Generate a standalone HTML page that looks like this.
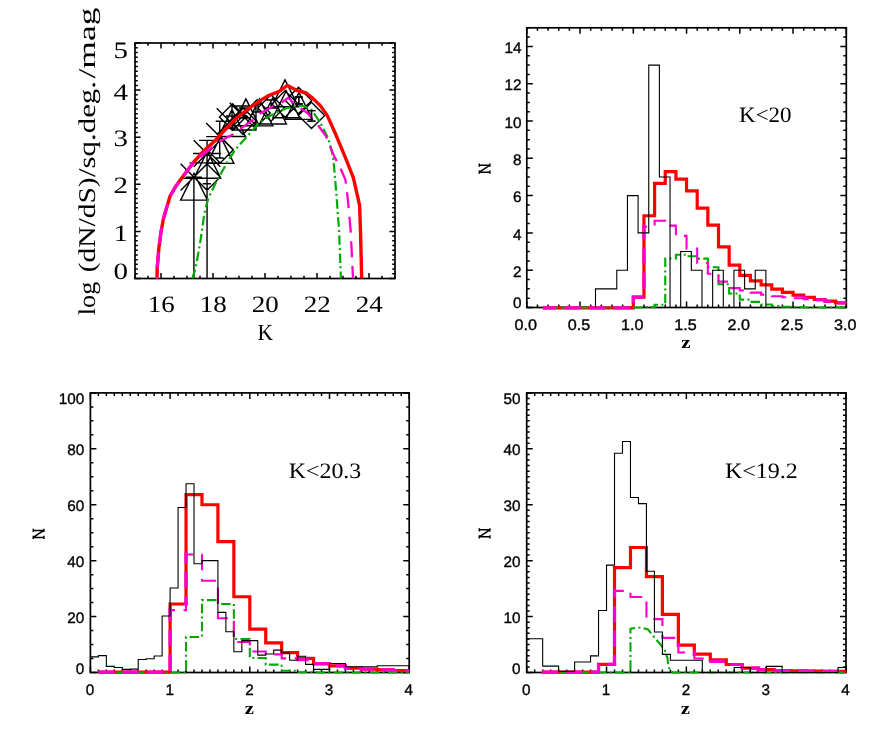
<!DOCTYPE html>
<html><head><meta charset="utf-8"><title>K-band counts and redshift distributions</title>
<style>html,body{margin:0;padding:0;background:#fff}svg{display:block}text{fill:#000;text-rendering:geometricPrecision}svg{will-change:transform;transform:translateZ(0)}</style></head><body>
<svg width="872" height="730" viewBox="0 0 872 730">
<rect width="872" height="730" fill="#fff"/>
<g id="p1">
<path d="M135 278.5v-2.8M135 43v2.8M148 278.5v-2.8M148 43v2.8M161 278.5v-5.5M161 43v5.5M174 278.5v-2.8M174 43v2.8M187 278.5v-2.8M187 43v2.8M200 278.5v-2.8M200 43v2.8M213 278.5v-5.5M213 43v5.5M226 278.5v-2.8M226 43v2.8M239 278.5v-2.8M239 43v2.8M252 278.5v-2.8M252 43v2.8M265 278.5v-5.5M265 43v5.5M278 278.5v-2.8M278 43v2.8M291 278.5v-2.8M291 43v2.8M304 278.5v-2.8M304 43v2.8M317 278.5v-5.5M317 43v5.5M330 278.5v-2.8M330 43v2.8M343 278.5v-2.8M343 43v2.8M356 278.5v-2.8M356 43v2.8M369 278.5v-5.5M369 43v5.5M382 278.5v-2.8M382 43v2.8M395 278.5v-2.8M395 43v2.8M135 278.5h5.5M395 278.5h-5.5M135 273.79h2.8M395 273.79h-2.8M135 269.08h2.8M395 269.08h-2.8M135 264.37h2.8M395 264.37h-2.8M135 259.66h2.8M395 259.66h-2.8M135 254.95h2.8M395 254.95h-2.8M135 250.24h2.8M395 250.24h-2.8M135 245.53h2.8M395 245.53h-2.8M135 240.82h2.8M395 240.82h-2.8M135 236.11h2.8M395 236.11h-2.8M135 231.4h5.5M395 231.4h-5.5M135 226.69h2.8M395 226.69h-2.8M135 221.98h2.8M395 221.98h-2.8M135 217.27h2.8M395 217.27h-2.8M135 212.56h2.8M395 212.56h-2.8M135 207.85h2.8M395 207.85h-2.8M135 203.14h2.8M395 203.14h-2.8M135 198.43h2.8M395 198.43h-2.8M135 193.72h2.8M395 193.72h-2.8M135 189.01h2.8M395 189.01h-2.8M135 184.3h5.5M395 184.3h-5.5M135 179.59h2.8M395 179.59h-2.8M135 174.88h2.8M395 174.88h-2.8M135 170.17h2.8M395 170.17h-2.8M135 165.46h2.8M395 165.46h-2.8M135 160.75h2.8M395 160.75h-2.8M135 156.04h2.8M395 156.04h-2.8M135 151.33h2.8M395 151.33h-2.8M135 146.62h2.8M395 146.62h-2.8M135 141.91h2.8M395 141.91h-2.8M135 137.2h5.5M395 137.2h-5.5M135 132.49h2.8M395 132.49h-2.8M135 127.78h2.8M395 127.78h-2.8M135 123.07h2.8M395 123.07h-2.8M135 118.36h2.8M395 118.36h-2.8M135 113.65h2.8M395 113.65h-2.8M135 108.94h2.8M395 108.94h-2.8M135 104.23h2.8M395 104.23h-2.8M135 99.52h2.8M395 99.52h-2.8M135 94.81h2.8M395 94.81h-2.8M135 90.1h5.5M395 90.1h-5.5M135 85.39h2.8M395 85.39h-2.8M135 80.68h2.8M395 80.68h-2.8M135 75.97h2.8M395 75.97h-2.8M135 71.26h2.8M395 71.26h-2.8M135 66.55h2.8M395 66.55h-2.8M135 61.84h2.8M395 61.84h-2.8M135 57.13h2.8M395 57.13h-2.8M135 52.42h2.8M395 52.42h-2.8M135 47.71h2.8M395 47.71h-2.8M135 43h5.5M395 43h-5.5" stroke="#000" stroke-width="1.5" fill="none"/>
<rect x="135" y="43" width="260" height="235.5" fill="none" stroke="#000" stroke-width="1.7"/>
<path d="M180.6 163.8L207.2 190.4M180.6 190.4L207.2 163.8M193.75 140.2L220.35 166.8M193.75 166.8L220.35 140.2M206.2 123L232.8 149.6M206.2 149.6L232.8 123M216.7 108.2L243.3 134.8M216.7 134.8L243.3 108.2M229.7 102.7L256.3 129.3M229.7 129.3L256.3 102.7M180.6 200.1L194 173.3L207.4 200.1ZM193.9 178.2L207.3 151.4L220.7 178.2ZM207.1 163.4L220.5 136.6L233.9 163.4ZM218.6 136.4L232 109.6L245.4 136.4ZM232.5 125.7L245.9 98.9L259.3 125.7ZM246 125.9L259.4 99.1L272.8 125.9ZM259.6 124L273 97.2L286.4 124ZM272.8 117.7L286.2 90.9L299.6 117.7ZM271.6 106.7L285 79.9L298.4 106.7ZM285.6 119.4L299 92.6L312.4 119.4ZM298.3 115.4L311.5 102.2L324.7 115.4L311.5 128.6ZM285.3 100.5L298.5 87.3L311.7 100.5L298.5 113.7ZM271.8 104L285 90.8L298.2 104L285 117.2ZM257.8 108L271 94.8L284.2 108L271 121.2ZM243.8 113L257 99.8L270.2 113L257 126.2ZM229.8 121L243 107.8L256.2 121L243 134.2ZM219.4 117L232.6 103.8L245.8 117L232.6 130.2ZM207 149.7L220.2 136.5L233.4 149.7L220.2 162.9ZM193.85 177.1L207.05 163.9L220.25 177.1L207.05 190.3ZM232 106h24v24h-24ZM193.9 177.1V278.5M185.9 177.1h16M207.05 140.4V278.5M199.05 140.4h16M189.5 162.9H210.3M180.2 178.2H207M207.05 153.5V162.9M193.05 153.5h28M193.05 162.9h28M219.7 121.2V158M215.7 121.2h8M215.7 158h8M206.2 136.6H244.4M202.7 183.7h8.2M217.7 121.4h12.3M311.5 110.6V121.1M307.5 110.6h8M307.5 121.1h8M298.8 97V104M294.8 97h8M294.8 104h8M232 116V128M226 116h12M226 128h12M245 108V118M239 108h12M239 118h12M258 104V112M253 104h10M253 112h10M271 100V108M266 100h10M266 108h10" stroke="#000" stroke-width="1.4" fill="none"/>
<path d="M157 278.5 L157.2 268 L158.9 248 L161 232 L163.5 218.4 L170 196.2 L176 186 L182 177.7 L193 163 L204.9 149.7 L215.8 139.9 L224.6 130.2 L237 117.5 L249.3 108.2 L261.7 99.6 L267.8 95.9 L278.9 91.6 L287.5 85.4 L297.5 90.7 L306.2 93 L312.9 98.4 L320.6 106 L327.3 115.6 L335.9 134.8 L345.5 157.8 L353.4 177.8 L359.6 205.4 L360.5 231.2 L361.7 278.5" stroke="#ff0000" stroke-width="3.4" fill="none" stroke-linejoin="round"/>
<path d="M192.3 278.5 L195.6 267.9 L200 243.8 L204.4 213.2 L208.1 199 L216.7 180.8 L229 159.4 L235.8 148.9 L246.9 136.6 L259.2 123 L269.1 116.2 L275.2 113.2 L286.3 108.2 L293.7 106.4 L301.4 105.5 L311 108.9 L320.6 123.3 L328.2 138.6 L333 155.9 L334.7 174.2 L336.5 195.6 L339.1 231.2 L340.9 278.5" stroke="#00aa00" stroke-width="2.2" fill="none" stroke-linejoin="round" stroke-dasharray="9.5 3.3 2 3.3"/>
<path d="M157 278.5 L157.2 268 L158.9 248 L161 232 L163.5 218.4 L170 196.2 L176 186 L182 177.7 L193 163.5 L200.5 156.8 L213.1 147 L219.5 141.5 L233.3 134.2 L240.7 128.6 L253 119.9 L260.4 113.2 L272.7 106.4 L281.4 102.7 L288.2 97.7 L292.5 102.1 L297.5 106 L307.1 112.7 L316.7 123.3 L326.3 136.7 L334 155.9 L340 167.1 L345.4 179.6 L348 200.9 L350.7 231.2 L353 278.5" stroke="#ff00cc" stroke-width="2.3" fill="none" stroke-linejoin="round" stroke-dasharray="16 8.6" stroke-dashoffset="14.2"/>
<mask id="m1" maskUnits="userSpaceOnUse" x="0" y="0" width="872" height="730"><path d="M157 278.5 L157.2 268 L158.9 248 L161 232 L163.5 218.4 L170 196.2 L176 186 L182 177.7 L193 163 L204.9 149.7 L215.8 139.9 L224.6 130.2 L237 117.5 L249.3 108.2 L261.7 99.6 L267.8 95.9 L278.9 91.6 L287.5 85.4 L297.5 90.7 L306.2 93 L312.9 98.4 L320.6 106 L327.3 115.6 L335.9 134.8 L345.5 157.8 L353.4 177.8 L359.6 205.4 L360.5 231.2 L361.7 278.5" stroke="#fff" stroke-width="3.2" fill="none" stroke-linejoin="round"/></mask>
<path d="M157 278.5 L157.2 268 L158.9 248 L161 232 L163.5 218.4 L170 196.2 L176 186 L182 177.7 L193 163.5 L200.5 156.8 L213.1 147 L219.5 141.5 L233.3 134.2 L240.7 128.6 L253 119.9 L260.4 113.2 L272.7 106.4 L281.4 102.7 L288.2 97.7 L292.5 102.1 L297.5 106 L307.1 112.7 L316.7 123.3 L326.3 136.7 L334 155.9 L340 167.1 L345.4 179.6 L348 200.9 L350.7 231.2 L353 278.5" stroke="#ff00cc" stroke-width="4.4" fill="none" stroke-linejoin="round" stroke-dasharray="16 8.6" stroke-dashoffset="14.2" mask="url(#m1)"/>
<path d="M311.5 110.6V121.1M307.5 110.6h8M307.5 121.1h8M298.8 97V104M294.8 97h8M294.8 104h8" stroke="#000" stroke-width="1.3" fill="none"/>
<text x="161.2" y="312" font-family="'Liberation Serif', serif" font-size="23.5" text-anchor="middle" textLength="27" lengthAdjust="spacingAndGlyphs">16</text>
<text x="213.2" y="312" font-family="'Liberation Serif', serif" font-size="23.5" text-anchor="middle" textLength="27" lengthAdjust="spacingAndGlyphs">18</text>
<text x="265.2" y="312" font-family="'Liberation Serif', serif" font-size="23.5" text-anchor="middle" textLength="27" lengthAdjust="spacingAndGlyphs">20</text>
<text x="317.2" y="312" font-family="'Liberation Serif', serif" font-size="23.5" text-anchor="middle" textLength="27" lengthAdjust="spacingAndGlyphs">22</text>
<text x="369.2" y="312" font-family="'Liberation Serif', serif" font-size="23.5" text-anchor="middle" textLength="27" lengthAdjust="spacingAndGlyphs">24</text>
<text x="128" y="58" font-family="'Liberation Serif', serif" font-size="23.5" text-anchor="end" textLength="14.5" lengthAdjust="spacingAndGlyphs">5</text>
<text x="128" y="99.9" font-family="'Liberation Serif', serif" font-size="23.5" text-anchor="end" textLength="14.5" lengthAdjust="spacingAndGlyphs">4</text>
<text x="128" y="146.4" font-family="'Liberation Serif', serif" font-size="23.5" text-anchor="end" textLength="14.5" lengthAdjust="spacingAndGlyphs">3</text>
<text x="128" y="192.8" font-family="'Liberation Serif', serif" font-size="23.5" text-anchor="end" textLength="14.5" lengthAdjust="spacingAndGlyphs">2</text>
<text x="128" y="240.9" font-family="'Liberation Serif', serif" font-size="23.5" text-anchor="end" textLength="14.5" lengthAdjust="spacingAndGlyphs">1</text>
<text x="128" y="279.3" font-family="'Liberation Serif', serif" font-size="23.5" text-anchor="end" textLength="14.5" lengthAdjust="spacingAndGlyphs">0</text>
<text x="265.2" y="339.5" font-family="'Liberation Serif', serif" font-size="23" text-anchor="middle" textLength="15.5" lengthAdjust="spacingAndGlyphs">K</text>
<g transform="translate(95 0) rotate(-90)">
<text x="-315.2" y="0" font-family="'Liberation Serif', serif" font-size="24" text-anchor="start" textLength="33.5" lengthAdjust="spacingAndGlyphs">log</text>
<text x="-272.3" y="0" font-family="'Liberation Serif', serif" font-size="24" text-anchor="start" textLength="95" lengthAdjust="spacingAndGlyphs">(dN/dS)</text>
<text x="-177" y="0" font-family="'Liberation Serif', serif" font-size="24" text-anchor="start" textLength="96" lengthAdjust="spacingAndGlyphs">/sq.deg.</text>
<text x="-78.5" y="0" font-family="'Liberation Serif', serif" font-size="24" text-anchor="start" textLength="71" lengthAdjust="spacingAndGlyphs">/mag</text>
</g>
</g>
<g id="p2">
<path d="M526.8 307.5v-6M526.8 27.8v6M537.45 307.5v-3M537.45 27.8v3M548.1 307.5v-3M548.1 27.8v3M558.75 307.5v-3M558.75 27.8v3M569.4 307.5v-3M569.4 27.8v3M580.05 307.5v-6M580.05 27.8v6M590.7 307.5v-3M590.7 27.8v3M601.35 307.5v-3M601.35 27.8v3M612 307.5v-3M612 27.8v3M622.65 307.5v-3M622.65 27.8v3M633.3 307.5v-6M633.3 27.8v6M643.95 307.5v-3M643.95 27.8v3M654.6 307.5v-3M654.6 27.8v3M665.25 307.5v-3M665.25 27.8v3M675.9 307.5v-3M675.9 27.8v3M686.55 307.5v-6M686.55 27.8v6M697.2 307.5v-3M697.2 27.8v3M707.85 307.5v-3M707.85 27.8v3M718.5 307.5v-3M718.5 27.8v3M729.15 307.5v-3M729.15 27.8v3M739.8 307.5v-6M739.8 27.8v6M750.45 307.5v-3M750.45 27.8v3M761.1 307.5v-3M761.1 27.8v3M771.75 307.5v-3M771.75 27.8v3M782.4 307.5v-3M782.4 27.8v3M793.05 307.5v-6M793.05 27.8v6M803.7 307.5v-3M803.7 27.8v3M814.35 307.5v-3M814.35 27.8v3M825 307.5v-3M825 27.8v3M835.65 307.5v-3M835.65 27.8v3M846.3 307.5v-6M846.3 27.8v6M526.8 307.5h6M846.3 307.5h-6M526.8 298.18h3M846.3 298.18h-3M526.8 288.85h3M846.3 288.85h-3M526.8 279.53h3M846.3 279.53h-3M526.8 270.21h6M846.3 270.21h-6M526.8 260.88h3M846.3 260.88h-3M526.8 251.56h3M846.3 251.56h-3M526.8 242.24h3M846.3 242.24h-3M526.8 232.91h6M846.3 232.91h-6M526.8 223.59h3M846.3 223.59h-3M526.8 214.27h3M846.3 214.27h-3M526.8 204.94h3M846.3 204.94h-3M526.8 195.62h6M846.3 195.62h-6M526.8 186.3h3M846.3 186.3h-3M526.8 176.97h3M846.3 176.97h-3M526.8 167.65h3M846.3 167.65h-3M526.8 158.33h6M846.3 158.33h-6M526.8 149h3M846.3 149h-3M526.8 139.68h3M846.3 139.68h-3M526.8 130.36h3M846.3 130.36h-3M526.8 121.03h6M846.3 121.03h-6M526.8 111.71h3M846.3 111.71h-3M526.8 102.39h3M846.3 102.39h-3M526.8 93.06h3M846.3 93.06h-3M526.8 83.74h6M846.3 83.74h-6M526.8 74.42h3M846.3 74.42h-3M526.8 65.09h3M846.3 65.09h-3M526.8 55.77h3M846.3 55.77h-3M526.8 46.45h6M846.3 46.45h-6M526.8 37.12h3M846.3 37.12h-3M526.8 27.8h3M846.3 27.8h-3" stroke="#000" stroke-width="1.5" fill="none"/>
<rect x="526.8" y="27.8" width="319.5" height="279.7" fill="none" stroke="#000" stroke-width="1.7"/>
<path d="M542.77 307.87 L633.3 307.87 L633.3 297.06 L643.95 297.06 L643.95 215.76 L654.6 215.76 L654.6 183.31 L665.25 183.31 L665.25 171.57 L675.9 171.57 L675.9 179.21 L686.55 179.21 L686.55 190.96 L697.2 190.96 L697.2 208.11 L707.85 208.11 L707.85 225.08 L718.5 225.08 L718.5 246.9 L729.15 246.9 L729.15 265.17 L739.8 265.17 L739.8 275.43 L750.45 275.43 L750.45 280.84 L761.1 280.84 L761.1 284.94 L771.75 284.94 L771.75 289.04 L782.4 289.04 L782.4 292.4 L793.05 292.4 L793.05 295.19 L803.7 295.19 L803.7 297.43 L814.35 297.43 L814.35 299.48 L825 299.48 L825 301.16 L835.65 301.16 L835.65 302.84 L846.3 302.84" stroke="#ff0000" stroke-width="3.2" fill="none" stroke-linejoin="miter"/>
<path d="M542.77 307.5 L633.3 307.5 L633.3 307.5 L643.95 307.5 L643.95 307.13 L654.6 307.13 L654.6 304.7 L665.25 304.7 L665.25 258.46 L675.9 258.46 L675.9 254.73 L686.55 254.73 L686.55 256.22 L697.2 256.22 L697.2 258.65 L707.85 258.65 L707.85 267.22 L718.5 267.22 L718.5 284.19 L729.15 284.19 L729.15 293.51 L739.8 293.51 L739.8 299.67 L750.45 299.67 L750.45 301.91 L761.1 301.91 L761.1 304.52 L771.75 304.52 L771.75 306.01 L782.4 306.01 L782.4 306.75 L793.05 306.75 L793.05 307.13 L803.7 307.13 L803.7 307.5 L814.35 307.5 L814.35 307.5 L825 307.5 L825 307.5 L835.65 307.5 L835.65 307.5 L846.3 307.5" stroke="#00aa00" stroke-width="2.1" fill="none" stroke-linejoin="miter" stroke-dasharray="9.5 3.3 2 3.3"/>
<path d="M542.77 307.87 L633.3 307.87 L633.3 297.06 L643.95 297.06 L643.95 226.76 L654.6 226.76 L654.6 220.79 L665.25 220.79 L665.25 225.64 L675.9 225.64 L675.9 235.9 L686.55 235.9 L686.55 248.58 L697.2 248.58 L697.2 262.93 L707.85 262.93 L707.85 273.75 L718.5 273.75 L718.5 281.58 L729.15 281.58 L729.15 288.11 L739.8 288.11 L739.8 290.35 L750.45 290.35 L750.45 292.58 L761.1 292.58 L761.1 294.63 L771.75 294.63 L771.75 296.31 L782.4 296.31 L782.4 297.24 L793.05 297.24 L793.05 298.18 L803.7 298.18 L803.7 299.11 L814.35 299.11 L814.35 300.41 L825 300.41 L825 301.72 L835.65 301.72 L835.65 303.02 L846.3 303.02" stroke="#ff00cc" stroke-width="2.1" fill="none" stroke-linejoin="miter" stroke-dasharray="16 8.6" stroke-dashoffset="2.7"/>
<mask id="m2" maskUnits="userSpaceOnUse" x="0" y="0" width="872" height="730"><path d="M542.77 307.87 L633.3 307.87 L633.3 297.06 L643.95 297.06 L643.95 215.76 L654.6 215.76 L654.6 183.31 L665.25 183.31 L665.25 171.57 L675.9 171.57 L675.9 179.21 L686.55 179.21 L686.55 190.96 L697.2 190.96 L697.2 208.11 L707.85 208.11 L707.85 225.08 L718.5 225.08 L718.5 246.9 L729.15 246.9 L729.15 265.17 L739.8 265.17 L739.8 275.43 L750.45 275.43 L750.45 280.84 L761.1 280.84 L761.1 284.94 L771.75 284.94 L771.75 289.04 L782.4 289.04 L782.4 292.4 L793.05 292.4 L793.05 295.19 L803.7 295.19 L803.7 297.43 L814.35 297.43 L814.35 299.48 L825 299.48 L825 301.16 L835.65 301.16 L835.65 302.84 L846.3 302.84" stroke="#fff" stroke-width="3.2" fill="none" stroke-linejoin="miter"/></mask>
<path d="M542.77 307.87 L633.3 307.87 L633.3 297.06 L643.95 297.06 L643.95 226.76 L654.6 226.76 L654.6 220.79 L665.25 220.79 L665.25 225.64 L675.9 225.64 L675.9 235.9 L686.55 235.9 L686.55 248.58 L697.2 248.58 L697.2 262.93 L707.85 262.93 L707.85 273.75 L718.5 273.75 L718.5 281.58 L729.15 281.58 L729.15 288.11 L739.8 288.11 L739.8 290.35 L750.45 290.35 L750.45 292.58 L761.1 292.58 L761.1 294.63 L771.75 294.63 L771.75 296.31 L782.4 296.31 L782.4 297.24 L793.05 297.24 L793.05 298.18 L803.7 298.18 L803.7 299.11 L814.35 299.11 L814.35 300.41 L825 300.41 L825 301.72 L835.65 301.72 L835.65 303.02 L846.3 303.02" stroke="#ff00cc" stroke-width="4.4" fill="none" stroke-linejoin="miter" stroke-dasharray="16 8.6" stroke-dashoffset="2.7" mask="url(#m2)"/>
<path d="M595.49 307.5 L595.49 307.5 L595.49 288.85 L606.14 288.85 L606.14 288.85 L616.79 288.85 L616.79 270.21 L627.44 270.21 L627.44 195.62 L638.09 195.62 L638.09 232.91 L648.74 232.91 L648.74 65.09 L659.39 65.09 L659.39 176.97 L670.04 176.97 L670.04 307.5 L680.69 307.5 L680.69 251.56 L691.34 251.56 L691.34 270.21 L701.99 270.21 L701.99 307.5 L712.64 307.5 L712.64 270.21 L723.29 270.21 L723.29 307.5 L733.94 307.5 L733.94 270.21 L744.59 270.21 L744.59 288.85 L755.24 288.85 L755.24 270.21 L765.89 270.21 L765.89 307.5 L776.54 307.5" stroke="#000000" stroke-width="1.1" fill="none" stroke-linejoin="miter"/>
<text x="525.8" y="329.8" font-family="'Liberation Sans', sans-serif" font-size="15.3" text-anchor="middle" textLength="22.5" lengthAdjust="spacingAndGlyphs" stroke="#000" stroke-width="0.35">0.0</text>
<text x="579.05" y="329.8" font-family="'Liberation Sans', sans-serif" font-size="15.3" text-anchor="middle" textLength="22.5" lengthAdjust="spacingAndGlyphs" stroke="#000" stroke-width="0.35">0.5</text>
<text x="632.3" y="329.8" font-family="'Liberation Sans', sans-serif" font-size="15.3" text-anchor="middle" textLength="22.5" lengthAdjust="spacingAndGlyphs" stroke="#000" stroke-width="0.35">1.0</text>
<text x="685.55" y="329.8" font-family="'Liberation Sans', sans-serif" font-size="15.3" text-anchor="middle" textLength="22.5" lengthAdjust="spacingAndGlyphs" stroke="#000" stroke-width="0.35">1.5</text>
<text x="738.8" y="329.8" font-family="'Liberation Sans', sans-serif" font-size="15.3" text-anchor="middle" textLength="22.5" lengthAdjust="spacingAndGlyphs" stroke="#000" stroke-width="0.35">2.0</text>
<text x="792.05" y="329.8" font-family="'Liberation Sans', sans-serif" font-size="15.3" text-anchor="middle" textLength="22.5" lengthAdjust="spacingAndGlyphs" stroke="#000" stroke-width="0.35">2.5</text>
<text x="845.3" y="329.8" font-family="'Liberation Sans', sans-serif" font-size="15.3" text-anchor="middle" textLength="22.5" lengthAdjust="spacingAndGlyphs" stroke="#000" stroke-width="0.35">3.0</text>
<text x="521.5" y="308.4" font-family="'Liberation Sans', sans-serif" font-size="15.3" text-anchor="end" stroke="#000" stroke-width="0.35">0</text>
<text x="521.5" y="276.81" font-family="'Liberation Sans', sans-serif" font-size="15.3" text-anchor="end" stroke="#000" stroke-width="0.35">2</text>
<text x="521.5" y="239.51" font-family="'Liberation Sans', sans-serif" font-size="15.3" text-anchor="end" stroke="#000" stroke-width="0.35">4</text>
<text x="521.5" y="202.22" font-family="'Liberation Sans', sans-serif" font-size="15.3" text-anchor="end" stroke="#000" stroke-width="0.35">6</text>
<text x="521.5" y="164.93" font-family="'Liberation Sans', sans-serif" font-size="15.3" text-anchor="end" stroke="#000" stroke-width="0.35">8</text>
<text x="521.5" y="127.63" font-family="'Liberation Sans', sans-serif" font-size="15.3" text-anchor="end" stroke="#000" stroke-width="0.35">10</text>
<text x="521.5" y="90.34" font-family="'Liberation Sans', sans-serif" font-size="15.3" text-anchor="end" stroke="#000" stroke-width="0.35">12</text>
<text x="521.5" y="53.05" font-family="'Liberation Sans', sans-serif" font-size="15.3" text-anchor="end" stroke="#000" stroke-width="0.35">14</text>
<path d="M479.3 165.2H489.9M479.3 172.2H489.9M489.9 165.2L479.3 172.2M479.3 164.3V166.1M479.3 171.3V173.1M489.9 164.3V166.1M489.9 171.3V173.1" stroke="#000" stroke-width="1.5" fill="none" stroke-linecap="square"/>
<text x="685.9" y="348.3" font-family="'Liberation Serif', serif" font-size="17.5" text-anchor="middle" textLength="9.2" lengthAdjust="spacingAndGlyphs" font-weight="bold">z</text>
<text x="765.3" y="122.4" font-family="'Liberation Serif', serif" font-size="22" text-anchor="middle" textLength="52.5" lengthAdjust="spacingAndGlyphs">K&lt;20</text>
</g>
<g id="p3">
<path d="M90.4 672.5v-6M90.4 392.9v6M98.37 672.5v-3M98.37 392.9v3M106.34 672.5v-3M106.34 392.9v3M114.31 672.5v-3M114.31 392.9v3M122.28 672.5v-3M122.28 392.9v3M130.25 672.5v-3M130.25 392.9v3M138.22 672.5v-3M138.22 392.9v3M146.19 672.5v-3M146.19 392.9v3M154.16 672.5v-3M154.16 392.9v3M162.13 672.5v-3M162.13 392.9v3M170.1 672.5v-6M170.1 392.9v6M178.07 672.5v-3M178.07 392.9v3M186.04 672.5v-3M186.04 392.9v3M194.01 672.5v-3M194.01 392.9v3M201.98 672.5v-3M201.98 392.9v3M209.95 672.5v-3M209.95 392.9v3M217.92 672.5v-3M217.92 392.9v3M225.89 672.5v-3M225.89 392.9v3M233.86 672.5v-3M233.86 392.9v3M241.83 672.5v-3M241.83 392.9v3M249.8 672.5v-6M249.8 392.9v6M257.77 672.5v-3M257.77 392.9v3M265.74 672.5v-3M265.74 392.9v3M273.71 672.5v-3M273.71 392.9v3M281.68 672.5v-3M281.68 392.9v3M289.65 672.5v-3M289.65 392.9v3M297.62 672.5v-3M297.62 392.9v3M305.59 672.5v-3M305.59 392.9v3M313.56 672.5v-3M313.56 392.9v3M321.53 672.5v-3M321.53 392.9v3M329.5 672.5v-6M329.5 392.9v6M337.47 672.5v-3M337.47 392.9v3M345.44 672.5v-3M345.44 392.9v3M353.41 672.5v-3M353.41 392.9v3M361.38 672.5v-3M361.38 392.9v3M369.35 672.5v-3M369.35 392.9v3M377.32 672.5v-3M377.32 392.9v3M385.29 672.5v-3M385.29 392.9v3M393.26 672.5v-3M393.26 392.9v3M401.23 672.5v-3M401.23 392.9v3M409.2 672.5v-6M409.2 392.9v6M90.4 672.5h6M409.2 672.5h-6M90.4 658.52h3M409.2 658.52h-3M90.4 644.54h3M409.2 644.54h-3M90.4 630.56h3M409.2 630.56h-3M90.4 616.58h6M409.2 616.58h-6M90.4 602.6h3M409.2 602.6h-3M90.4 588.62h3M409.2 588.62h-3M90.4 574.64h3M409.2 574.64h-3M90.4 560.66h6M409.2 560.66h-6M90.4 546.68h3M409.2 546.68h-3M90.4 532.7h3M409.2 532.7h-3M90.4 518.72h3M409.2 518.72h-3M90.4 504.74h6M409.2 504.74h-6M90.4 490.76h3M409.2 490.76h-3M90.4 476.78h3M409.2 476.78h-3M90.4 462.8h3M409.2 462.8h-3M90.4 448.82h6M409.2 448.82h-6M90.4 434.84h3M409.2 434.84h-3M90.4 420.86h3M409.2 420.86h-3M90.4 406.88h3M409.2 406.88h-3M90.4 392.9h6M409.2 392.9h-6" stroke="#000" stroke-width="1.5" fill="none"/>
<rect x="90.4" y="392.9" width="318.8" height="279.6" fill="none" stroke="#000" stroke-width="1.7"/>
<path d="M98.37 672.22 L170.1 672.22 L170.1 604 L186.04 604 L186.04 494.67 L201.98 494.67 L201.98 504.74 L217.92 504.74 L217.92 541.65 L233.86 541.65 L233.86 596.73 L249.8 596.73 L249.8 629.16 L265.74 629.16 L265.74 642.86 L281.68 642.86 L281.68 652.65 L297.62 652.65 L297.62 658.38 L313.56 658.38 L313.56 663.55 L329.5 663.55 L329.5 665.79 L345.44 665.79 L345.44 668.03 L361.38 668.03 L361.38 669.14 L377.32 669.14 L377.32 669.84 L393.26 669.84 L393.26 670.54 L409.2 670.54" stroke="#ff0000" stroke-width="3.2" fill="none" stroke-linejoin="miter"/>
<path d="M98.37 672.5 L170.1 672.5 L170.1 672.5 L186.04 672.5 L186.04 636.99 L201.98 636.99 L201.98 600.08 L217.92 600.08 L217.92 604 L233.86 604 L233.86 638.95 L249.8 638.95 L249.8 657.96 L265.74 657.96 L265.74 664.67 L281.68 664.67 L281.68 670.82 L297.62 670.82 L297.62 672.22 L313.56 672.22 L313.56 672.5 L329.5 672.5 L329.5 672.5 L345.44 672.5 L345.44 672.5 L361.38 672.5 L361.38 672.5 L377.32 672.5 L377.32 672.5 L393.26 672.5 L393.26 672.5 L409.2 672.5" stroke="#00aa00" stroke-width="2.1" fill="none" stroke-linejoin="miter" stroke-dasharray="9.5 3.3 2 3.3"/>
<path d="M98.37 672.22 L170.1 672.22 L170.1 610.15 L186.04 610.15 L186.04 554.51 L201.98 554.51 L201.98 580.79 L217.92 580.79 L217.92 618.26 L233.86 618.26 L233.86 642.02 L249.8 642.02 L249.8 651.53 L265.74 651.53 L265.74 654.33 L281.68 654.33 L281.68 658.38 L297.62 658.38 L297.62 660.2 L313.56 660.2 L313.56 664.11 L329.5 664.11 L329.5 666.07 L345.44 666.07 L345.44 668.17 L361.38 668.17 L361.38 669.28 L377.32 669.28 L377.32 669.98 L393.26 669.98 L393.26 670.68 L409.2 670.68" stroke="#ff00cc" stroke-width="2.1" fill="none" stroke-linejoin="miter" stroke-dasharray="16 8.6" stroke-dashoffset="0.3"/>
<mask id="m3" maskUnits="userSpaceOnUse" x="0" y="0" width="872" height="730"><path d="M98.37 672.22 L170.1 672.22 L170.1 604 L186.04 604 L186.04 494.67 L201.98 494.67 L201.98 504.74 L217.92 504.74 L217.92 541.65 L233.86 541.65 L233.86 596.73 L249.8 596.73 L249.8 629.16 L265.74 629.16 L265.74 642.86 L281.68 642.86 L281.68 652.65 L297.62 652.65 L297.62 658.38 L313.56 658.38 L313.56 663.55 L329.5 663.55 L329.5 665.79 L345.44 665.79 L345.44 668.03 L361.38 668.03 L361.38 669.14 L377.32 669.14 L377.32 669.84 L393.26 669.84 L393.26 670.54 L409.2 670.54" stroke="#fff" stroke-width="3.2" fill="none" stroke-linejoin="miter"/></mask>
<path d="M98.37 672.22 L170.1 672.22 L170.1 610.15 L186.04 610.15 L186.04 554.51 L201.98 554.51 L201.98 580.79 L217.92 580.79 L217.92 618.26 L233.86 618.26 L233.86 642.02 L249.8 642.02 L249.8 651.53 L265.74 651.53 L265.74 654.33 L281.68 654.33 L281.68 658.38 L297.62 658.38 L297.62 660.2 L313.56 660.2 L313.56 664.11 L329.5 664.11 L329.5 666.07 L345.44 666.07 L345.44 668.17 L361.38 668.17 L361.38 669.28 L377.32 669.28 L377.32 669.98 L393.26 669.98 L393.26 670.68 L409.2 670.68" stroke="#ff00cc" stroke-width="4.4" fill="none" stroke-linejoin="miter" stroke-dasharray="16 8.6" stroke-dashoffset="0.3" mask="url(#m3)"/>
<path d="M90.4 656.84 L98.37 656.84 L98.37 655.58 L106.34 655.58 L106.34 666.35 L114.31 666.35 L114.31 667.47 L122.28 667.47 L122.28 669.42 L130.25 669.42 L130.25 669.14 L138.22 669.14 L138.22 659.47 L146.19 659.47 L146.19 658.8 L154.16 658.8 L154.16 656 L162.13 656 L162.13 616.02 L170.1 616.02 L170.1 588.06 L178.07 588.06 L178.07 507.54 L186.04 507.54 L186.04 483.77 L194.01 483.77 L194.01 563.74 L201.98 563.74 L201.98 560.66 L209.95 560.66 L209.95 560.66 L217.92 560.66 L217.92 612.39 L225.89 612.39 L225.89 631.68 L233.86 631.68 L233.86 651.81 L241.83 651.81 L241.83 640.63 L249.8 640.63 L249.8 640.63 L257.77 640.63 L257.77 655.16 L265.74 655.16 L265.74 654.05 L273.71 654.05 L273.71 650.13 L281.68 650.13 L281.68 652.93 L289.65 652.93 L289.65 660.2 L297.62 660.2 L297.62 656.28 L305.59 656.28 L305.59 664.39 L313.56 664.39 L313.56 669.42 L321.53 669.42 L321.53 669.42 L329.5 669.42 L329.5 663.55 L337.47 663.55 L337.47 663.55 L345.44 663.55 L345.44 666.77 L353.41 666.77 L353.41 666.77 L361.38 666.77 L361.38 666.77 L369.35 666.77 L369.35 666.77 L377.32 666.77 L377.32 665.79 L385.29 665.79 L385.29 665.79 L393.26 665.79 L393.26 665.79 L401.23 665.79 L401.23 665.79 L409.2 665.79" stroke="#000000" stroke-width="1.1" fill="none" stroke-linejoin="miter"/>
<text x="90" y="694.6" font-family="'Liberation Sans', sans-serif" font-size="15.3" text-anchor="middle" stroke="#000" stroke-width="0.35">0</text>
<text x="169.7" y="694.6" font-family="'Liberation Sans', sans-serif" font-size="15.3" text-anchor="middle" stroke="#000" stroke-width="0.35">1</text>
<text x="249.4" y="694.6" font-family="'Liberation Sans', sans-serif" font-size="15.3" text-anchor="middle" stroke="#000" stroke-width="0.35">2</text>
<text x="329.1" y="694.6" font-family="'Liberation Sans', sans-serif" font-size="15.3" text-anchor="middle" stroke="#000" stroke-width="0.35">3</text>
<text x="408.8" y="694.6" font-family="'Liberation Sans', sans-serif" font-size="15.3" text-anchor="middle" stroke="#000" stroke-width="0.35">4</text>
<text x="84.3" y="673.5" font-family="'Liberation Sans', sans-serif" font-size="15.3" text-anchor="end" stroke="#000" stroke-width="0.35">0</text>
<text x="84.3" y="623.08" font-family="'Liberation Sans', sans-serif" font-size="15.3" text-anchor="end" stroke="#000" stroke-width="0.35">20</text>
<text x="84.3" y="567.16" font-family="'Liberation Sans', sans-serif" font-size="15.3" text-anchor="end" stroke="#000" stroke-width="0.35">40</text>
<text x="84.3" y="511.24" font-family="'Liberation Sans', sans-serif" font-size="15.3" text-anchor="end" stroke="#000" stroke-width="0.35">60</text>
<text x="84.3" y="455.32" font-family="'Liberation Sans', sans-serif" font-size="15.3" text-anchor="end" stroke="#000" stroke-width="0.35">80</text>
<text x="84.3" y="404" font-family="'Liberation Sans', sans-serif" font-size="15.3" text-anchor="end" stroke="#000" stroke-width="0.35">100</text>
<path d="M33.3 530.4H43.9M33.3 537.4H43.9M43.9 530.4L33.3 537.4M33.3 529.5V531.3M33.3 536.5V538.3M43.9 529.5V531.3M43.9 536.5V538.3" stroke="#000" stroke-width="1.5" fill="none" stroke-linecap="square"/>
<text x="249.4" y="713.7" font-family="'Liberation Serif', serif" font-size="17.5" text-anchor="middle" textLength="9.2" lengthAdjust="spacingAndGlyphs" font-weight="bold">z</text>
<text x="325" y="478.4" font-family="'Liberation Serif', serif" font-size="22" text-anchor="middle" textLength="72.5" lengthAdjust="spacingAndGlyphs">K&lt;20.3</text>
</g>
<g id="p4">
<path d="M526.7 672.5v-6M526.7 392.9v6M534.68 672.5v-3M534.68 392.9v3M542.67 672.5v-3M542.67 392.9v3M550.65 672.5v-3M550.65 392.9v3M558.63 672.5v-3M558.63 392.9v3M566.61 672.5v-3M566.61 392.9v3M574.6 672.5v-3M574.6 392.9v3M582.58 672.5v-3M582.58 392.9v3M590.56 672.5v-3M590.56 392.9v3M598.54 672.5v-3M598.54 392.9v3M606.53 672.5v-6M606.53 392.9v6M614.51 672.5v-3M614.51 392.9v3M622.49 672.5v-3M622.49 392.9v3M630.47 672.5v-3M630.47 392.9v3M638.46 672.5v-3M638.46 392.9v3M646.44 672.5v-3M646.44 392.9v3M654.42 672.5v-3M654.42 392.9v3M662.4 672.5v-3M662.4 392.9v3M670.38 672.5v-3M670.38 392.9v3M678.37 672.5v-3M678.37 392.9v3M686.35 672.5v-6M686.35 392.9v6M694.33 672.5v-3M694.33 392.9v3M702.32 672.5v-3M702.32 392.9v3M710.3 672.5v-3M710.3 392.9v3M718.28 672.5v-3M718.28 392.9v3M726.26 672.5v-3M726.26 392.9v3M734.25 672.5v-3M734.25 392.9v3M742.23 672.5v-3M742.23 392.9v3M750.21 672.5v-3M750.21 392.9v3M758.19 672.5v-3M758.19 392.9v3M766.17 672.5v-6M766.17 392.9v6M774.16 672.5v-3M774.16 392.9v3M782.14 672.5v-3M782.14 392.9v3M790.12 672.5v-3M790.12 392.9v3M798.11 672.5v-3M798.11 392.9v3M806.09 672.5v-3M806.09 392.9v3M814.07 672.5v-3M814.07 392.9v3M822.05 672.5v-3M822.05 392.9v3M830.04 672.5v-3M830.04 392.9v3M838.02 672.5v-3M838.02 392.9v3M846 672.5v-6M846 392.9v6M526.7 672.5h6M846 672.5h-6M526.7 666.91h3M846 666.91h-3M526.7 661.32h3M846 661.32h-3M526.7 655.72h3M846 655.72h-3M526.7 650.13h3M846 650.13h-3M526.7 644.54h3M846 644.54h-3M526.7 638.95h3M846 638.95h-3M526.7 633.36h3M846 633.36h-3M526.7 627.76h3M846 627.76h-3M526.7 622.17h3M846 622.17h-3M526.7 616.58h6M846 616.58h-6M526.7 610.99h3M846 610.99h-3M526.7 605.4h3M846 605.4h-3M526.7 599.8h3M846 599.8h-3M526.7 594.21h3M846 594.21h-3M526.7 588.62h3M846 588.62h-3M526.7 583.03h3M846 583.03h-3M526.7 577.44h3M846 577.44h-3M526.7 571.84h3M846 571.84h-3M526.7 566.25h3M846 566.25h-3M526.7 560.66h6M846 560.66h-6M526.7 555.07h3M846 555.07h-3M526.7 549.48h3M846 549.48h-3M526.7 543.88h3M846 543.88h-3M526.7 538.29h3M846 538.29h-3M526.7 532.7h3M846 532.7h-3M526.7 527.11h3M846 527.11h-3M526.7 521.52h3M846 521.52h-3M526.7 515.92h3M846 515.92h-3M526.7 510.33h3M846 510.33h-3M526.7 504.74h6M846 504.74h-6M526.7 499.15h3M846 499.15h-3M526.7 493.56h3M846 493.56h-3M526.7 487.96h3M846 487.96h-3M526.7 482.37h3M846 482.37h-3M526.7 476.78h3M846 476.78h-3M526.7 471.19h3M846 471.19h-3M526.7 465.6h3M846 465.6h-3M526.7 460h3M846 460h-3M526.7 454.41h3M846 454.41h-3M526.7 448.82h6M846 448.82h-6M526.7 443.23h3M846 443.23h-3M526.7 437.64h3M846 437.64h-3M526.7 432.04h3M846 432.04h-3M526.7 426.45h3M846 426.45h-3M526.7 420.86h3M846 420.86h-3M526.7 415.27h3M846 415.27h-3M526.7 409.68h3M846 409.68h-3M526.7 404.08h3M846 404.08h-3M526.7 398.49h3M846 398.49h-3M526.7 392.9h6M846 392.9h-6" stroke="#000" stroke-width="1.5" fill="none"/>
<rect x="526.7" y="392.9" width="319.3" height="279.6" fill="none" stroke="#000" stroke-width="1.7"/>
<path d="M541.87 672.22 L598.54 672.22 L598.54 664.45 L614.51 664.45 L614.51 567.71 L630.47 567.71 L630.47 547.52 L646.44 547.52 L646.44 576.6 L662.4 576.6 L662.4 614.34 L678.37 614.34 L678.37 645.1 L694.33 645.1 L694.33 654.21 L710.3 654.21 L710.3 659.92 L726.26 659.92 L726.26 664.5 L742.23 664.5 L742.23 668.03 L758.19 668.03 L758.19 669.7 L774.16 669.7 L774.16 670.54 L790.12 670.54 L790.12 670.82 L806.09 670.82 L806.09 671.1 L822.05 671.1 L822.05 671.27 L838.02 671.27 L838.02 671.38 L846 671.38" stroke="#ff0000" stroke-width="3.2" fill="none" stroke-linejoin="miter"/>
<path d="M542.67 672.5 L630.47 672.5 L630.47 628.88 L633.11 628.21 L641.33 627.48 L648.19 629.61 L652.34 635.03 L656.5 640.07 L660.57 644.54 L664.72 650.13 L667.51 658.52 L668.15 665.23 L670.23 671.1 L672.78 672.5 L846 672.5" stroke="#00aa00" stroke-width="2.1" fill="none" stroke-linejoin="round" stroke-dasharray="9.5 3.3 2 3.3"/>
<path d="M541.87 672.22 L598.54 672.22 L598.54 664.45 L614.51 664.45 L614.51 590.86 L630.47 590.86 L630.47 597.01 L646.44 597.01 L646.44 619.1 L662.4 619.1 L662.4 637.83 L678.37 637.83 L678.37 652.54 L694.33 652.54 L694.33 658.52 L710.3 658.52 L710.3 661.88 L726.26 661.88 L726.26 664.95 L742.23 664.95 L742.23 668.14 L758.19 668.14 L758.19 669.82 L774.16 669.82 L774.16 670.65 L790.12 670.65 L790.12 670.93 L806.09 670.93 L806.09 671.21 L822.05 671.21 L822.05 671.38 L838.02 671.38 L838.02 671.49 L846 671.49" stroke="#ff00cc" stroke-width="2.1" fill="none" stroke-linejoin="miter" stroke-dasharray="16 8.6" stroke-dashoffset="0.3"/>
<mask id="m4" maskUnits="userSpaceOnUse" x="0" y="0" width="872" height="730"><path d="M541.87 672.22 L598.54 672.22 L598.54 664.45 L614.51 664.45 L614.51 567.71 L630.47 567.71 L630.47 547.52 L646.44 547.52 L646.44 576.6 L662.4 576.6 L662.4 614.34 L678.37 614.34 L678.37 645.1 L694.33 645.1 L694.33 654.21 L710.3 654.21 L710.3 659.92 L726.26 659.92 L726.26 664.5 L742.23 664.5 L742.23 668.03 L758.19 668.03 L758.19 669.7 L774.16 669.7 L774.16 670.54 L790.12 670.54 L790.12 670.82 L806.09 670.82 L806.09 671.1 L822.05 671.1 L822.05 671.27 L838.02 671.27 L838.02 671.38 L846 671.38" stroke="#fff" stroke-width="3.2" fill="none" stroke-linejoin="miter"/></mask>
<path d="M541.87 672.22 L598.54 672.22 L598.54 664.45 L614.51 664.45 L614.51 590.86 L630.47 590.86 L630.47 597.01 L646.44 597.01 L646.44 619.1 L662.4 619.1 L662.4 637.83 L678.37 637.83 L678.37 652.54 L694.33 652.54 L694.33 658.52 L710.3 658.52 L710.3 661.88 L726.26 661.88 L726.26 664.95 L742.23 664.95 L742.23 668.14 L758.19 668.14 L758.19 669.82 L774.16 669.82 L774.16 670.65 L790.12 670.65 L790.12 670.93 L806.09 670.93 L806.09 671.21 L822.05 671.21 L822.05 671.38 L838.02 671.38 L838.02 671.49 L846 671.49" stroke="#ff00cc" stroke-width="4.4" fill="none" stroke-linejoin="miter" stroke-dasharray="16 8.6" stroke-dashoffset="0.3" mask="url(#m4)"/>
<path d="M526.7 638.78 L534.68 638.78 L534.68 638.78 L542.67 638.78 L542.67 666.13 L550.65 666.13 L550.65 666.13 L558.63 666.13 L558.63 671.38 L566.61 671.38 L566.61 671.38 L574.6 671.38 L574.6 662.04 L582.58 662.04 L582.58 662.04 L590.56 662.04 L590.56 655.89 L598.54 655.89 L598.54 610.43 L606.53 610.43 L606.53 565.13 L614.51 565.13 L614.51 453.29 L622.49 453.29 L622.49 441.55 L630.47 441.55 L630.47 497.47 L638.46 497.47 L638.46 503.62 L646.44 503.62 L646.44 571.28 L654.42 571.28 L654.42 631.96 L662.4 631.96 L662.4 654.33 L670.38 654.33 L670.38 660.2 L678.37 660.2 L678.37 660.2 L686.35 660.2 L686.35 660.2 L694.33 660.2 L694.33 660.2 L702.32 660.2 L702.32 672.5 L710.3 672.5 L710.3 672.5 L718.28 672.5 L718.28 672.5 L726.26 672.5 L726.26 672.5 L734.25 672.5 L734.25 667.47 L742.23 667.47 L742.23 667.47 L750.21 667.47 L750.21 672.5 L758.19 672.5 L758.19 672.5 L766.17 672.5 L766.17 666.35 L774.16 666.35 L774.16 666.35 L782.14 666.35 L782.14 672.5 L790.12 672.5 L790.12 672.5 L798.11 672.5 L798.11 672.5 L806.09 672.5 L806.09 672.5 L814.07 672.5 L814.07 672.5 L822.05 672.5 L822.05 672.5 L830.04 672.5 L830.04 672.5 L838.02 672.5 L838.02 667.47 L846 667.47" stroke="#000000" stroke-width="1.1" fill="none" stroke-linejoin="miter"/>
<text x="526.3" y="694.6" font-family="'Liberation Sans', sans-serif" font-size="15.3" text-anchor="middle" stroke="#000" stroke-width="0.35">0</text>
<text x="606.13" y="694.6" font-family="'Liberation Sans', sans-serif" font-size="15.3" text-anchor="middle" stroke="#000" stroke-width="0.35">1</text>
<text x="685.95" y="694.6" font-family="'Liberation Sans', sans-serif" font-size="15.3" text-anchor="middle" stroke="#000" stroke-width="0.35">2</text>
<text x="765.77" y="694.6" font-family="'Liberation Sans', sans-serif" font-size="15.3" text-anchor="middle" stroke="#000" stroke-width="0.35">3</text>
<text x="845.6" y="694.6" font-family="'Liberation Sans', sans-serif" font-size="15.3" text-anchor="middle" stroke="#000" stroke-width="0.35">4</text>
<text x="520.5" y="673.5" font-family="'Liberation Sans', sans-serif" font-size="15.3" text-anchor="end" stroke="#000" stroke-width="0.35">0</text>
<text x="520.5" y="623.18" font-family="'Liberation Sans', sans-serif" font-size="15.3" text-anchor="end" stroke="#000" stroke-width="0.35">10</text>
<text x="520.5" y="567.26" font-family="'Liberation Sans', sans-serif" font-size="15.3" text-anchor="end" stroke="#000" stroke-width="0.35">20</text>
<text x="520.5" y="511.34" font-family="'Liberation Sans', sans-serif" font-size="15.3" text-anchor="end" stroke="#000" stroke-width="0.35">30</text>
<text x="520.5" y="455.42" font-family="'Liberation Sans', sans-serif" font-size="15.3" text-anchor="end" stroke="#000" stroke-width="0.35">40</text>
<text x="520.5" y="404" font-family="'Liberation Sans', sans-serif" font-size="15.3" text-anchor="end" stroke="#000" stroke-width="0.35">50</text>
<path d="M479.3 529.8H489.9M479.3 536.8H489.9M489.9 529.8L479.3 536.8M479.3 528.9V530.7M479.3 535.9V537.7M489.9 528.9V530.7M489.9 535.9V537.7" stroke="#000" stroke-width="1.5" fill="none" stroke-linecap="square"/>
<text x="685.4" y="713.9" font-family="'Liberation Serif', serif" font-size="17.5" text-anchor="middle" textLength="9.2" lengthAdjust="spacingAndGlyphs" font-weight="bold">z</text>
<text x="761.4" y="478.4" font-family="'Liberation Serif', serif" font-size="22" text-anchor="middle" textLength="73" lengthAdjust="spacingAndGlyphs">K&lt;19.2</text>
</g>
</svg></body></html>
